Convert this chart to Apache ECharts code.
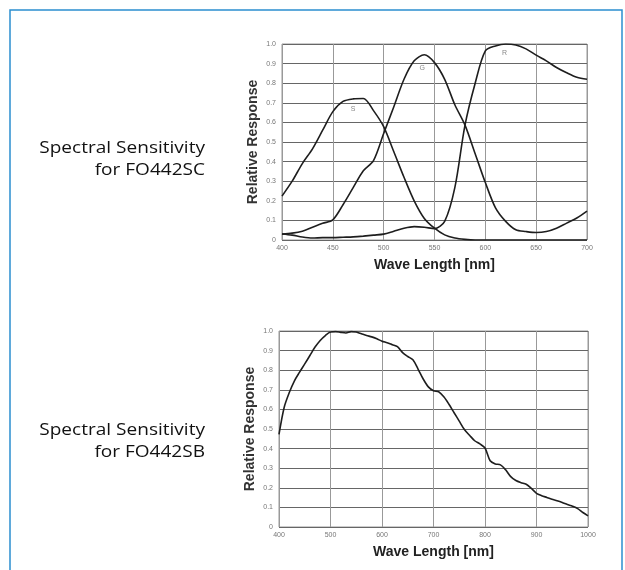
<!DOCTYPE html>
<html><head><meta charset="utf-8">
<script src="https://cdn.jsdelivr.net/npm/echarts@6/dist/echarts.min.js"></script>
<style>html,body{margin:0;padding:0;background:#fff}#c{width:625px;height:570px}</style>
</head><body><div id="c"></div>
<script>
// Top chart (FO442SC): wavelength (nm) and relative response of the S, G, R channels
const topWave = [400,410,420,430,440,450,460,470,480,490,500,510,520,530,540,550,560,570,580,590,600,610,620,630,640,650,660,670,680,690,700];
const sValues = [0.224,0.30,0.39,0.465,0.56,0.655,0.707,0.72,0.722,0.66,0.578,0.45,0.32,0.2,0.11,0.06,0.026,0.01,0.003,0,0,0,0,0,0,0,0,0,0,0,0];
const gValues = [0.03,0.035,0.045,0.065,0.085,0.103,0.18,0.267,0.353,0.405,0.543,0.68,0.82,0.914,0.945,0.905,0.82,0.69,0.586,0.44,0.293,0.164,0.095,0.052,0.043,0.038,0.043,0.06,0.086,0.112,0.147];
const rValues = [0.031,0.025,0.015,0.01,0.012,0.012,0.014,0.016,0.02,0.025,0.03,0.045,0.06,0.068,0.065,0.058,0.095,0.267,0.586,0.8,0.965,0.99,1.0,0.995,0.975,0.943,0.914,0.88,0.853,0.83,0.82];
// Bottom chart (FO442SB)
const botWave = [400,410,420,430,440,450,460,470,480,490,500,510,520,530,540,550,560,570,580,590,600,610,620,630,640,650,660,670,680,690,700,710,720,730,740,750,760,770,780,790,800,810,820,830,840,850,860,870,880,890,900,910,920,930,940,950,960,970,980,990,1000];
const bValues = [0.472,0.61,0.686,0.746,0.79,0.832,0.875,0.918,0.952,0.977,0.995,0.997,0.993,0.99,0.997,0.995,0.986,0.977,0.97,0.96,0.948,0.94,0.93,0.92,0.89,0.87,0.853,0.806,0.755,0.715,0.695,0.69,0.664,0.626,0.583,0.54,0.497,0.468,0.44,0.424,0.403,0.338,0.322,0.317,0.292,0.257,0.237,0.226,0.218,0.197,0.172,0.16,0.151,0.142,0.134,0.125,0.115,0.106,0.094,0.074,0.057];
// Curve labels
const curveLabels = [{name:'S', x:470, y:0.67},{name:'G', x:538, y:0.875},{name:'R', x:619, y:0.955}];
const texts = {
  title1a:'Spectral Sensitivity', title1b:'for FO442SC',
  title2a:'Spectral Sensitivity', title2b:'for FO442SB',
  yName:'Relative Response', xName:'Wave Length [nm]'
};

const pair = (xs, ys) => xs.map((x,i)=>[x, ys[i]]);
const chart = echarts.init(document.getElementById('c'), null, {renderer:'canvas'});

function xAxis(gi, min, max, interval){
  return {gridIndex:gi, type:'value', min, max, interval,
    name:texts.xName, nameLocation:'middle', nameGap:18,
    nameTextStyle:{fontFamily:'Liberation Sans', fontWeight:'bold', fontSize:14, color:'#222'},
    axisLine:{show:false}, axisTick:{show:false},
    axisLabel:{fontSize:7, color:'#777', margin:5, fontFamily:'Liberation Sans', formatter:v=>String(v)},
    splitLine:{show:true, lineStyle:{color:'#999', width:1}}};
}
function yAxis(gi){
  return {gridIndex:gi, type:'value', min:0, max:1, interval:0.1,
    name:texts.yName, nameLocation:'middle', nameGap:22, nameRotate:90,
    nameTextStyle:{fontFamily:'Liberation Sans', fontWeight:'bold', fontSize:14, color:'#333'},
    axisLine:{show:false}, axisTick:{show:false},
    axisLabel:{fontSize:7, color:'#777', margin:6, fontFamily:'Liberation Sans',
      formatter:v=> v===0 ? '0' : v.toFixed(1)},
    splitLine:{show:true, lineStyle:{color:'#666', width:1.2}}};
}
const lineStyle = {color:'#1e1e1e', width:1.6};
function lineSeries(data, xi, yi, label){
  const s = {type:'line', xAxisIndex:xi, yAxisIndex:yi, data, smooth:0.3, symbol:'none',
    lineStyle, silent:true, animation:false};
  if(label){
    s.markPoint = {symbol:'circle', symbolSize:0, silent:true, animation:false,
      label:{show:true, position:'inside', formatter:label.name, color:'#888', fontSize:7, fontFamily:'Liberation Sans'},
      data:[{coord:[label.x, label.y]}]};
  }
  return s;
}
function sideText(str, y){
  return {type:'text', x:205, y, scaleX:1.12, originX:0, originY:0,
    style:{text:str, font:'17px "Open Sans"', fill:'#111', textAlign:'right', textVerticalAlign:'middle'}};
}

chart.setOption({
  animation:false,
  backgroundColor:'#fff',
  grid:[
    {left:282, top:44, width:305, height:196, show:true, borderColor:'#999', borderWidth:1},
    {left:279, top:331, width:309, height:196, show:true, borderColor:'#999', borderWidth:1}
  ],
  xAxis:[xAxis(0,400,700,50), xAxis(1,400,1000,100)],
  yAxis:[yAxis(0), yAxis(1)],
  series:[
    lineSeries(pair(topWave,sValues),0,0,curveLabels[0]),
    lineSeries(pair(topWave,gValues),0,0,curveLabels[1]),
    lineSeries(pair(topWave,rValues),0,0,curveLabels[2]),
    lineSeries(pair(botWave,bValues),1,1,null)
  ],
  graphic:[
    {type:'rect', shape:{x:10, y:10, width:612, height:580}, style:{fill:'none', stroke:'#2b8fcf', lineWidth:1.5}, silent:true},
    sideText(texts.title1a, 148),
    sideText(texts.title1b, 170),
    sideText(texts.title2a, 430),
    sideText(texts.title2b, 452)
  ]
});
</script></body></html>
